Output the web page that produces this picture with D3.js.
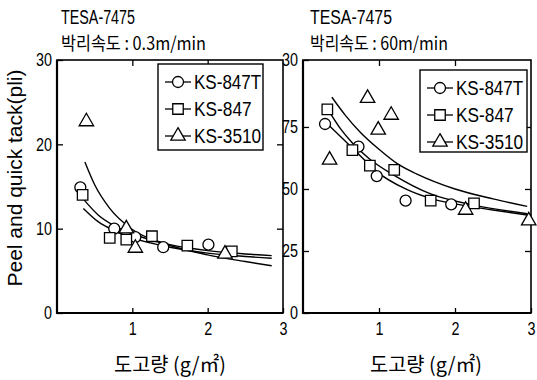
<!DOCTYPE html>
<html>
<head>
<meta charset="utf-8">
<script src="https://cdn.jsdelivr.net/npm/d3@7"></script>
<style>
  body { margin: 0; background: #fff; }
  text { fill: #000; }
  .lat { font-family: 'Liberation Sans', Arial, sans-serif; }
  .kr { font-family: 'Noto Sans CJK KR', sans-serif; }
</style>
</head>
<body>
<div id="chart-area"></div>
<script>
// tick values and labels
let xTicks = [1, 2, 3];
let leftYTicks = [0, 10, 20, 30];
let rightYTicks = [0, 25, 50, 75];
let rightTopLabel = '30';
let seriesNames = ['KS-847T', 'KS-847', 'KS-3510'];

// left panel (0.3 m/min) measured points [coating g/m2, pli]
let left847T = [[0.31, 14.9], [0.76, 10.0], [1.04, 9.0], [1.41, 7.8], [2.01, 8.1]];
let left847 = [[0.34, 14.0], [0.70, 8.9], [0.92, 8.7], [1.26, 9.1], [1.73, 8.0], [2.32, 7.3]];
let left3510 = [[0.39, 22.7], [0.92, 10.0], [1.04, 7.7], [2.23, 7.0]];
// left panel fitted curves
let leftFitA = [[0.37, 17.9], [0.5, 15.2], [0.7, 12.4], [1.0, 9.9], [1.4, 8.3], [2.0, 6.9], [2.5, 6.1], [2.85, 5.6]];
let leftFitB = [[0.35, 13.5], [0.55, 11.6], [0.75, 10.4], [1.0, 9.4], [1.5, 8.1], [2.0, 7.4], [2.5, 7.0], [2.85, 6.8]];
let leftFitC = [[0.35, 12.4], [0.55, 10.8], [0.75, 9.8], [1.0, 8.9], [1.5, 7.8], [2.0, 7.1], [2.5, 6.7], [2.85, 6.5]];

// right panel (60 m/min) measured points
let right847T = [[0.29, 76.2], [0.73, 67.1], [0.97, 55.2], [1.35, 45.3], [1.95, 43.8]];
let right847 = [[0.32, 82.1], [0.65, 65.7], [0.88, 59.4], [1.20, 57.7], [1.68, 45.3], [2.25, 44.2]];
let right3510 = [[0.35, 61.7], [0.85, 86.6], [0.99, 73.8], [1.16, 79.8], [2.14, 41.5], [2.97, 37.2]];
// right panel fitted curves
let rightFitA = [[0.38, 87], [0.55, 80], [0.75, 73], [1.0, 66], [1.25, 60], [1.5, 56], [2.0, 50], [2.5, 46], [2.95, 43]];
let rightFitB = [[0.35, 81], [0.5, 74], [0.65, 68.5], [0.88, 62], [1.2, 55.5], [1.68, 48], [2.25, 43.5], [2.95, 40]];
let rightFitC = [[0.33, 76], [0.5, 71], [0.7, 65], [0.97, 57], [1.35, 50], [1.7, 46], [2.0, 44], [2.5, 41.5], [2.95, 39.5]];

let width = 537;
let height = 380;

let chart = d3
  .select('#chart-area')
  .append('svg')
  .attr('width', width)
  .attr('height', height);

let panels = [
  {
    left: 57, right: 283, top: 60, bottom: 313,
    yMax: 30, yTicks: leftYTicks, yLabel: (d) => d,
    title1: 'TESA-7475', title2: '박리속도 : 0.3m/min', t1w: 74, t2w: 145, tx: 61,
    points: [left847T, left847, left3510],
    fits: [leftFitA, leftFitB, leftFitC],
    legend: { x: 158, y: 64, w: 105, h: 86 },
    xlabelX: 170,
  },
  {
    left: 303, right: 531, top: 60, bottom: 313,
    yMax: 102, yTicks: rightYTicks.concat([102]), yLabel: (d) => (d === 102 ? rightTopLabel : d),
    title1: 'TESA-7475', title2: '박리속도 : 60m/min', t1w: 82, t2w: 138, tx: 310,
    points: [right847T, right847, right3510],
    fits: [rightFitA, rightFitB, rightFitC],
    legend: { x: 420, y: 70, w: 107, h: 82 },
    xlabelX: 426,
  },
];

let shapes = [d3.symbolCircle, d3.symbolSquare, d3.symbolTriangle];
let shapeSize = [95, 110, 90];

// squeeze a label to a narrow width per character
function narrow(sel, perChar) {
  sel.attr('textLength', function () { return this.textContent.length * perChar; })
    .attr('lengthAdjust', 'spacingAndGlyphs');
}

panels.forEach((p) => {
  let x = d3.scaleLinear().domain([0, 3]).range([p.left, p.right]);
  let y = d3.scaleLinear().domain([0, p.yMax]).range([p.bottom, p.top]);
  let g = chart.append('g');

  //titles
  g.append('text').attr('class', 'lat').attr('x', p.tx).attr('y', 24)
    .attr('textLength', p.t1w).attr('lengthAdjust', 'spacingAndGlyphs')
    .style('font-size', '20px').text(p.title1);
  g.append('text').attr('class', 'kr').attr('x', p.tx).attr('y', 49.5)
    .attr('textLength', p.t2w).attr('lengthAdjust', 'spacingAndGlyphs')
    .style('font-size', '18px').text(p.title2);

  //axes with inner ticks
  let bottomAxis = g.append('g').attr('transform', `translate(0,${p.bottom})`)
    .call(d3.axisBottom(x).tickValues(xTicks).tickSize(-5).tickPadding(9).tickFormat(d3.format('d')));
  bottomAxis.selectAll('text').attr('class', 'lat').style('font-size', '18px').call(narrow, 8);
  g.append('g').attr('transform', `translate(0,${p.top})`)
    .call(d3.axisTop(x).tickValues([1, 2]).tickSize(-6).tickFormat(''));
  let leftAxis = g.append('g').attr('transform', `translate(${p.left},0)`)
    .call(d3.axisLeft(y).tickValues(p.yTicks).tickSize(-6).tickPadding(5).tickFormat(p.yLabel));
  leftAxis.selectAll('text').attr('class', 'lat').style('font-size', '18px').call(narrow, 8);
  g.append('g').attr('transform', `translate(${p.right},0)`)
    .call(d3.axisRight(y).tickValues(p.yTicks.slice(1, -1)).tickSize(-6).tickFormat(''));
  g.selectAll('.domain').remove();
  g.selectAll('.tick line').attr('stroke', '#000').attr('stroke-width', 1.3);

  //frame
  g.append('rect')
    .attr('x', p.left).attr('y', p.top)
    .attr('width', p.right - p.left).attr('height', p.bottom - p.top)
    .attr('fill', 'none').attr('stroke', '#000').attr('stroke-width', 1.6);
  g.append('path')
    .attr('d', `M${p.left},${p.top}V${p.bottom}H${p.right}`)
    .attr('fill', 'none').attr('stroke', '#000').attr('stroke-width', 2.2);

  //fitted curves
  let line = d3.line().x((d) => x(d[0])).y((d) => y(d[1])).curve(d3.curveMonotoneX);
  g.selectAll('.fit').data(p.fits).enter().append('path')
    .attr('class', 'fit').attr('d', line)
    .attr('fill', 'none').attr('stroke', '#000').attr('stroke-width', 1.4);

  //points
  p.points.forEach((pts, i) => {
    g.selectAll(null).data(pts).enter().append('path')
      .attr('d', d3.symbol(shapes[i], shapeSize[i]))
      .attr('transform', (d) => `translate(${x(d[0])},${y(d[1])})`)
      .attr('fill', '#fff').attr('stroke', '#000').attr('stroke-width', 1.3);
  });

  //legend
  let lg = g.append('g').attr('transform', `translate(${p.legend.x},${p.legend.y})`);
  lg.append('rect').attr('width', p.legend.w).attr('height', p.legend.h)
    .attr('fill', '#fff').attr('stroke', '#000').attr('stroke-width', 1.4);
  seriesNames.forEach((name, i) => {
    let cy = 18 + i * 27;
    lg.append('line').attr('x1', 7).attr('x2', 33).attr('y1', cy).attr('y2', cy)
      .attr('stroke', '#000').attr('stroke-width', 1.3);
    lg.append('path').attr('d', d3.symbol(shapes[i], shapeSize[i]))
      .attr('transform', `translate(20,${cy})`)
      .attr('fill', '#fff').attr('stroke', '#000').attr('stroke-width', 1.3);
    lg.append('text').attr('class', 'lat').attr('x', 36).attr('y', cy + 7)
      .style('font-size', '20px').text(name).call(narrow, 9.6);
  });

  //x label
  g.append('text').attr('class', 'kr').attr('x', p.xlabelX).attr('y', 372)
    .attr('text-anchor', 'middle').attr('textLength', 112).attr('lengthAdjust', 'spacingAndGlyphs')
    .style('font-size', '20px').text('도고량 (g/㎡)');
});

//y axis title
chart.append('text')
  .attr('class', 'lat')
  .attr('transform', 'translate(22,178) rotate(-90)')
  .attr('text-anchor', 'middle')
  .attr('textLength', 217).attr('lengthAdjust', 'spacingAndGlyphs')
  .style('font-size', '20px')
  .text('Peel and quick tack(pli)');
</script>
</body>
</html>
